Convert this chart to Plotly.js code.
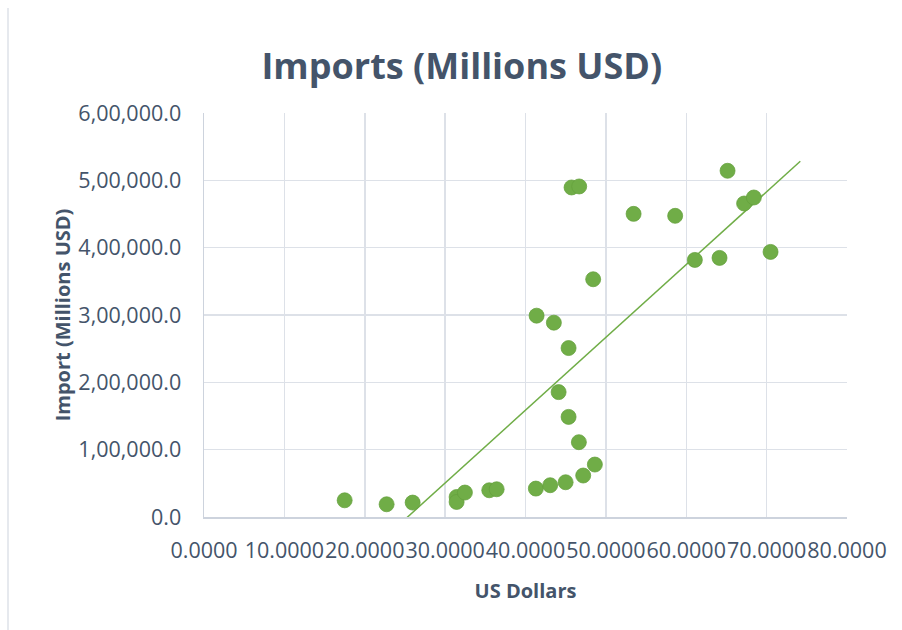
<!DOCTYPE html>
<html>
<head>
<meta charset="utf-8">
<script src="https://cdn.plot.ly/plotly-3.0.1.min.js"></script>
<style>
  html, body { margin: 0; padding: 0; background: #ffffff; }
  #wrap { position: relative; width: 902px; height: 630px; }
  #chart { width: 902px; height: 630px; }
  #frame { position: absolute; left: 7px; top: 8px; width: 2px; height: 622px; background: #e6e9ee; }
</style>
</head>
<body>
<div id="wrap">
  <div id="chart"></div>
  <div id="frame"></div>
</div>
<script>
// Data
const usDollars = [17.50, 22.72, 25.96, 31.43, 31.43, 32.46, 35.49, 36.41, 41.29, 43.07,
                   44.99, 47.18, 48.63, 46.64, 45.36, 44.12, 45.36, 43.53, 41.38, 48.42,
                   45.73, 46.68, 53.45, 58.62, 61.07, 64.14, 65.14, 67.20, 68.41, 70.49];
const importsMillionsUSD = [24800, 18900, 21400, 29700, 22300, 36300, 39700, 41200, 42200, 47200,
                   51600, 61600, 77900, 111100, 148700, 185500, 250900, 288600, 299000, 353100,
                   489400, 490900, 450200, 447300, 381800, 384800, 514200, 465600, 474500, 393700];

const xTickVals = [0, 10, 20, 30, 40, 50, 60, 70, 80];
const xTickText = ["0.0000", "10.0000", "20.0000", "30.0000", "40.0000", "50.0000", "60.0000", "70.0000", "80.0000"];
const yTickVals = [0, 100000, 200000, 300000, 400000, 500000, 600000];
const yTickText = ["0.0", "1,00,000.0", "2,00,000.0", "3,00,000.0", "4,00,000.0", "5,00,000.0", "6,00,000.0"];

// Linear trendline (least squares) computed from the data
const trendForward = 3.7;
const n = usDollars.length;
const mx = usDollars.reduce((a, b) => a + b, 0) / n;
const my = importsMillionsUSD.reduce((a, b) => a + b, 0) / n;
let sxy = 0, sxx = 0;
for (let i = 0; i < n; i++) {
  sxy += (usDollars[i] - mx) * (importsMillionsUSD[i] - my);
  sxx += (usDollars[i] - mx) ** 2;
}
const slope = sxy / sxx;
const intercept = my - slope * mx;
const xMin = Math.min(...usDollars);
const xMax = Math.max(...usDollars) + trendForward;
const trendX = [xMin, xMax];
const trendY = trendX.map(x => intercept + slope * x);

const textColor = '#44546A';
const font = '"Open Sans", Lato, sans-serif';

const traces = [
  {
    x: trendX, y: trendY, type: 'scatter', mode: 'lines',
    line: { color: '#70AD47', width: 1.5 }, hoverinfo: 'skip', cliponaxis: true
  },
  {
    x: usDollars, y: importsMillionsUSD, type: 'scatter', mode: 'markers',
    marker: { color: '#70AD47', size: 15, line: { color: '#64a03c', width: 0.75 } }
  }
];

const layout = {
  width: 902, height: 630,
  paper_bgcolor: '#ffffff', plot_bgcolor: '#ffffff',
  showlegend: false,
  margin: { l: 204, r: 55, t: 113, b: 113 },
  font: { family: font, color: textColor },
  title: {
    text: '<b>Imports (Millions USD)</b>',
    font: { family: font, size: 36, color: textColor },
    x: 0.512, xanchor: 'center', y: 0.895, yanchor: 'middle'
  },
  xaxis: {
    range: [0, 80], tickvals: xTickVals, ticktext: xTickText, tickangle: 0,
    tickfont: { family: font, size: 21.5, color: textColor },
    showgrid: true, gridcolor: '#dde1e8', gridwidth: 1.5,
    showline: true, linecolor: '#cdd3dd', linewidth: 1.5,
    zeroline: false, ticks: '', ticklabelstandoff: 14,
    title: { text: '<b>US Dollars</b>', font: { family: font, size: 20, color: textColor }, standoff: 20 },
    fixedrange: true
  },
  yaxis: {
    range: [0, 600000], tickvals: yTickVals, ticktext: yTickText,
    tickfont: { family: font, size: 21.5, color: textColor },
    showgrid: true, gridcolor: '#dde1e8', gridwidth: 1.5,
    showline: true, linecolor: '#cdd3dd', linewidth: 1.5,
    zeroline: false, ticks: '', ticklabelstandoff: 17,
    title: { text: '<b>Import (Millions USD)</b>', font: { family: font, size: 20, color: textColor }, standoff: 2 },
    fixedrange: true
  }
};

Plotly.newPlot('chart', traces, layout, { displayModeBar: false, staticPlot: true });
</script>
</body>
</html>
